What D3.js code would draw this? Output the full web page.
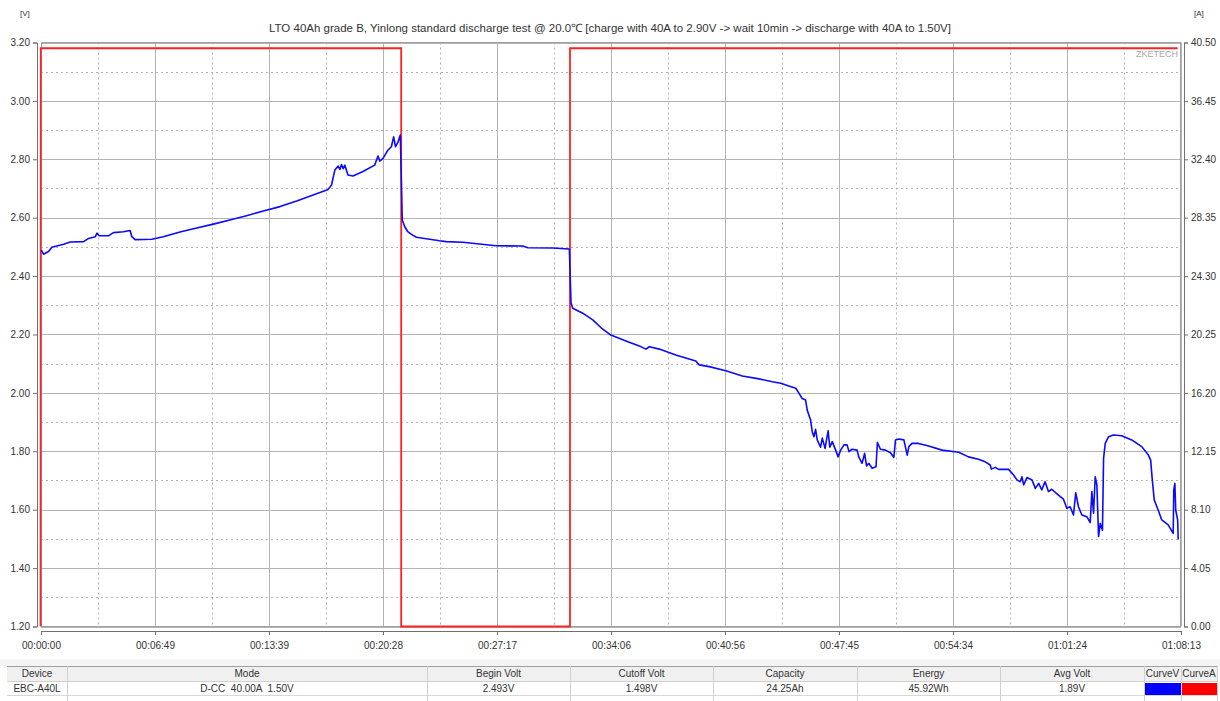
<!DOCTYPE html>
<html>
<head>
<meta charset="utf-8">
<script src="https://cdn.jsdelivr.net/npm/d3@7"></script>
<style>
  body { margin: 0; background: #fff; }
  svg text { font-family: "Liberation Sans", Arial, sans-serif; }
</style>
</head>
<body>
<div class="chart"></div>
<script>
// voltage curve (seconds, volts)
const voltTime = [1,9,27,39,81,105,153,171,195,201,209,242,260,296,320,326,338,398,439,499,559,619,678,738,798,858,918,977,1031,1043,1055,1067,1073,1079,1085,1091,1102,1120,1156,1198,1210,1216,1228,1246,1258,1266,1273,1282,1290,
  1296,1297,1306,1317,1330,1348,1377,1431,1455,1515,1574,1634,1730,1748,1837,1897,
  1903,1909,1945,1981,2011,2046,2100,2148,2172,2184,2220,2279,2351,2363,2399,2459,2518,2578,2626,2656,2685,2710,2721,2733,2745,2751,2763,2769,2775,2781,2787,2799,2805,2815,2826,2832,2841,2853,2862,2871,2883,2894,2901,2912,2930,2936,2948,2957,2964,2972,2984,2998,3003,3014,3032,3050,3062,3068,3080,3098,3110,3116,3127,3151,3187,3235,3295,3330,3366,3390,3408,3412,3426,3438,3474,3492,3504,3516,3522,3528,3540,3558,3570,3582,3593,3605,3617,3629,3653,3671,3683,3695,3707,3715,3725,3737,3755,3767,3773,3779,3785,3791,3797,3803,3811,3815,3821,3833,3850,3880,3916,3952,3976,3984,3990,3997,4011,4024,4047,4065,4067,4071,4074,4081,4083]
const voltage = [2.489,2.475,2.484,2.499,2.509,2.517,2.518,2.529,2.535,2.547,2.538,2.538,2.549,2.552,2.556,2.535,2.525,2.526,2.535,2.551,2.565,2.578,2.592,2.607,2.623,2.638,2.657,2.678,2.697,2.712,2.763,2.777,2.765,2.782,2.768,2.780,2.746,2.743,2.758,2.780,2.811,2.794,2.803,2.832,2.843,2.877,2.843,2.860,2.883,
  2.636,2.592,2.569,2.552,2.543,2.533,2.529,2.521,2.518,2.516,2.510,2.504,2.503,2.497,2.496,2.493,
  2.309,2.290,2.273,2.250,2.223,2.198,2.178,2.161,2.150,2.158,2.150,2.130,2.109,2.096,2.090,2.076,2.058,2.048,2.038,2.033,2.024,2.016,1.999,1.981,1.976,1.941,1.907,1.867,1.850,1.875,1.839,1.814,1.845,1.810,1.870,1.814,1.833,1.804,1.781,1.804,1.822,1.822,1.799,1.807,1.804,1.781,1.759,1.793,1.750,1.759,1.742,1.747,1.830,1.807,1.804,1.795,1.779,1.839,1.842,1.839,1.787,1.816,1.827,1.827,1.818,1.804,1.797,1.781,1.773,1.764,1.753,1.739,1.745,1.738,1.738,1.719,1.702,1.696,1.713,1.685,1.710,1.702,1.673,1.690,1.668,1.696,1.662,1.670,1.650,1.636,1.605,1.610,1.582,1.658,1.610,1.582,1.576,1.556,1.662,1.588,1.713,1.685,1.508,1.553,1.530,1.776,1.827,1.850,1.856,1.853,1.839,1.816,1.787,1.770,1.702,1.633,1.599,1.565,1.548,1.519,1.667,1.690,1.599,1.565,1.498]

// current curve (seconds, amps)
const ampTime = [0,1,1295,1295,1901,1901,4083]
const current = [0,40.1,40.1,0,0,40.1,40.1]

const totalSec = 4093
const timeLabels = ['00:00:00','00:06:49','00:13:39','00:20:28','00:27:17','00:34:06','00:40:56','00:47:45','00:54:34','01:01:24','01:08:13']
const voltLabels = ['3.20','3.00','2.80','2.60','2.40','2.20','2.00','1.80','1.60','1.40','1.20']
const ampLabels = ['40.50','36.45','32.40','28.35','24.30','20.25','16.20','12.15','8.10','4.05','0.00']

const title = 'LTO 40Ah grade B, Yinlong standard discharge test @ 20.0\u2103 [charge with 40A to 2.90V -> wait 10min -> discharge with 40A to 1.50V]'

const tableHeads = ['Device','Mode','Begin Volt','Cutoff Volt','Capacity','Energy','Avg Volt','CurveV','CurveA']
const tableVals = ['EBC-A40L','D-CC  40.00A  1.50V','2.493V','1.498V','24.25Ah','45.92Wh','1.89V','','']
const colEdges = [7,67,427,570,713,857,1000,1144,1181,1217]

const W=1220, H=701
const x0=41, x1=1181, y0=42.5, y1=626.5

const svg=d3.select('.chart').append('svg')
  .attr('width',W)
  .attr('height',H)
svg.append('rect').attr('width',W).attr('height',H).attr('fill','#fff')

const xScale=d3.scaleLinear().domain([0,totalSec]).range([x0,x1])
const yScale=d3.scaleLinear().domain([1.2,3.2]).range([y1,y0])
const yScale2=d3.scaleLinear().domain([0,40.5]).range([y1,y0])

// grid
const grid=svg.append('g')
const xMajor=d3.range(11).map(i=>i*totalSec/10)
const xMinor=d3.range(10).map(i=>(i+0.5)*totalSec/10)
const yMajor=d3.range(11).map(i=>1.2+i*0.2)
const yMinor=d3.range(10).map(i=>1.3+i*0.2)

grid.selectAll('.vmaj').data(xMajor).enter().append('line')
  .attr('x1',d=>Math.round(xScale(d))+0.5).attr('x2',d=>Math.round(xScale(d))+0.5)
  .attr('y1',y0).attr('y2',y1)
  .attr('stroke','#b4b4b4').attr('stroke-width',1)
grid.selectAll('.vmin').data(xMinor).enter().append('line')
  .attr('x1',d=>Math.round(xScale(d))+0.5).attr('x2',d=>Math.round(xScale(d))+0.5)
  .attr('y1',y0).attr('y2',y1)
  .attr('stroke','#b4b4b4').attr('stroke-dasharray','2,3')
grid.selectAll('.hmaj').data(yMajor).enter().append('line')
  .attr('x1',x0).attr('x2',x1)
  .attr('y1',d=>Math.round(yScale(d))+0.5).attr('y2',d=>Math.round(yScale(d))+0.5)
  .attr('stroke','#b4b4b4')
grid.selectAll('.hmin').data(yMinor).enter().append('line')
  .attr('x1',x0).attr('x2',x1)
  .attr('y1',d=>Math.round(yScale(d))+0.5).attr('y2',d=>Math.round(yScale(d))+0.5)
  .attr('stroke','#b4b4b4').attr('stroke-dasharray','2,3')

svg.append('rect')
  .attr('x',x0+0.5).attr('y',y0)
  .attr('width',x1-x0-1).attr('height',y1-y0)
  .attr('fill','none').attr('stroke','#a0a0a0')

// axes
const xAxis=d3.axisBottom(xScale)
  .tickValues(xMajor)
  .tickFormat((d,i)=>timeLabels[i])
  .tickSizeOuter(0).tickSize(4).tickPadding(7)
const yAxis=d3.axisLeft(yScale)
  .tickValues(yMajor.slice().reverse())
  .tickFormat((d,i)=>voltLabels[i])
  .tickSizeOuter(0).tickSize(4).tickPadding(3)
const yAxis2=d3.axisRight(yScale2)
  .tickValues(d3.range(11).map(i=>40.5-i*4.05))
  .tickFormat((d,i)=>ampLabels[i])
  .tickSizeOuter(0).tickSize(4).tickPadding(3)

function styleAxis(g){
  g.selectAll('path').attr('stroke','#707070')
  g.selectAll('line').attr('stroke','#707070')
  g.selectAll('text').attr('fill','#333').style('font-size','10px')
}
svg.append('g').attr('transform','translate(0,631)').call(xAxis).call(styleAxis)
svg.append('g').attr('transform','translate(37,0)').call(yAxis).call(styleAxis)
svg.append('g').attr('transform','translate(1184,0)').call(yAxis2).call(styleAxis)

// lines
const ampData=ampTime.map((t,i)=>({t:t,v:current[i]}))
const voltData=voltTime.map((t,i)=>({t:t,v:voltage[i]}))

svg.append('path')
  .datum(ampData)
  .attr('d',d3.line().x(d=>xScale(d.t)-0.5).y(d=>yScale2(d.v)))
  .attr('fill','none')
  .attr('stroke','#ff2222')
  .attr('stroke-width',1.8)

svg.append('path')
  .datum(voltData)
  .attr('d',d3.line().x(d=>xScale(d.t)).y(d=>yScale(d.v)))
  .attr('fill','none')
  .attr('stroke','#0a0aff')
  .attr('stroke-width',1.6)
  .attr('stroke-linejoin','round')

// texts
svg.append('text')
  .attr('x',610).attr('y',32)
  .attr('text-anchor','middle')
  .style('font-size','11.5px')
  .attr('fill','#333')
  .text(title)
svg.append('text').attr('x',20).attr('y',16).style('font-size','8px').attr('fill','#333').text('[V]')
svg.append('text').attr('x',1194).attr('y',16).style('font-size','8px').attr('fill','#333').text('[A]')
svg.append('text')
  .attr('x',1178).attr('y',57)
  .attr('text-anchor','end')
  .style('font-size','9px')
  .attr('fill','#a8a8a8')
  .text('ZKETECH')

// table
const tbl=svg.append('g')
const tTop=666, hH=15, rH=14
tbl.append('rect').attr('x',0).attr('y',659).attr('width',W).attr('height',tTop-659).attr('fill','#f4f4f4')
tbl.append('rect').attr('x',colEdges[0]).attr('y',tTop).attr('width',colEdges[9]-colEdges[0]).attr('height',hH).attr('fill','#f0f0f0')
tbl.append('line').attr('x1',colEdges[0]).attr('x2',colEdges[9]).attr('y1',tTop+0.5).attr('y2',tTop+0.5).attr('stroke','#a0a0a0')
tbl.append('line').attr('x1',colEdges[0]).attr('x2',colEdges[9]).attr('y1',tTop+hH+0.5).attr('y2',tTop+hH+0.5).attr('stroke','#d0d0d0')
tbl.append('line').attr('x1',colEdges[0]).attr('x2',colEdges[9]).attr('y1',tTop+hH+rH+0.5).attr('y2',tTop+hH+rH+0.5).attr('stroke','#d8d8d8')
tbl.selectAll('.sep').data(colEdges.slice(1)).enter().append('line')
  .attr('x1',d=>d+0.5).attr('x2',d=>d+0.5)
  .attr('y1',tTop).attr('y2',H)
  .attr('stroke','#d0d0d0')
tbl.append('rect').attr('x',colEdges[7]+1).attr('y',tTop+hH+2).attr('width',colEdges[8]-colEdges[7]-1).attr('height',rH-2).attr('fill','#0000ff')
tbl.append('rect').attr('x',colEdges[8]+1).attr('y',tTop+hH+2).attr('width',colEdges[9]-colEdges[8]-1).attr('height',rH-2).attr('fill','#ff0000')
tbl.selectAll('.hd').data(tableHeads).enter().append('text')
  .attr('x',(d,i)=>(colEdges[i]+colEdges[i+1])/2)
  .attr('y',tTop+11)
  .attr('text-anchor','middle')
  .style('font-size','10px')
  .attr('fill','#333')
  .text(d=>d)
tbl.selectAll('.vl').data(tableVals).enter().append('text')
  .attr('x',(d,i)=>(colEdges[i]+colEdges[i+1])/2)
  .attr('y',tTop+hH+11)
  .attr('text-anchor','middle')
  .style('font-size','10px')
  .attr('fill','#333')
  .style('white-space','pre')
  .text(d=>d)
</script>
</body>
</html>
